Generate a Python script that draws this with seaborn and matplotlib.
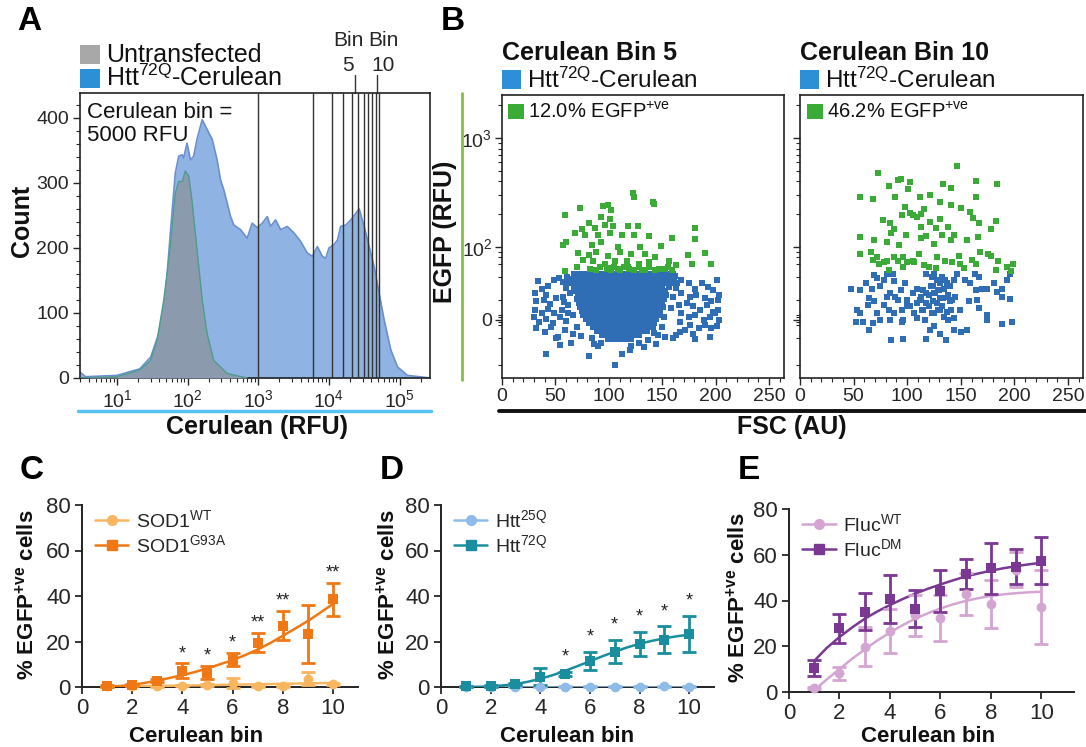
import numpy as np
import matplotlib
matplotlib.use("Agg")
import matplotlib.pyplot as plt
import matplotlib.ticker as mticker
import matplotlib.transforms as mtransforms
from matplotlib.lines import Line2D
from matplotlib.patches import Rectangle
import seaborn as sns

W, H = 1086, 747

# ---------------- panel A: Cerulean histogram ----------------
hist_rfu = [3.0, 3.6, 10, 21, 30, 39, 49, 57, 67, 75, 84, 88, 98, 110, 122, 136, 161, 189,
            223, 262, 292, 326, 363, 406, 452, 561, 698, 822, 968, 1140, 1343, 1496, 1762,
            2075, 2576, 3206, 3981, 4955, 5834, 6871, 8091, 9016, 10046, 11830, 13213,
            14723, 17338, 20417, 24044, 26792, 31550, 37154, 43752, 51523, 60674, 75336,
            93756, 129718, 277971]
htt72q_count = [9, 2, 4, 14, 32, 68, 130, 223, 315, 341, 343, 338, 361, 335, 341, 367, 397, 382,
                367, 335, 305, 289, 269, 248, 235, 228, 215, 238, 231, 238, 248, 233, 243,
                228, 233, 223, 210, 192, 187, 202, 187, 184, 200, 205, 212, 233, 235, 243,
                253, 260, 233, 202, 171, 130, 89, 43, 17, 4, 0]
untrans_rfu = [3.0, 10, 21, 30, 37, 46, 57, 67, 75, 84, 93, 104, 115, 136, 161, 189, 235, 363, 698]
untrans_count = [0, 2, 12, 27, 58, 120, 202, 284, 302, 302, 318, 310, 274, 197, 120, 68, 27, 7, 0]
bin_edges = [1000, 6000, 11000, 16000, 21000, 26000, 31000, 36000, 41000, 46000, 51000]
bin_marks = [23500, 48500]

# ---------------- panel B: EGFP vs FSC scatter ----------------
bin5_core_egfp = [56, 51, 46, 41, 36, 31, 26, 21, 16, 11, 6, 1, -4, -9, -14, -19, -24]
bin5_core_fsc = [
    [67, 71, 76, 80, 85, 89, 93, 98, 102, 106, 111, 115, 119, 124, 128, 132, 137, 141, 146, 150, 155, 160],
    [65, 69, 74, 78, 82, 87, 91, 96, 100, 104, 109, 113, 117, 122, 126, 130, 135, 139, 144, 148, 152, 157, 161],
    [63, 68, 72, 76, 81, 85, 90, 94, 98, 103, 107, 111, 116, 120, 124, 129, 133, 137, 142, 146, 150, 155, 159],
    [67, 71, 75, 80, 84, 88, 93, 97, 101, 106, 110, 114, 119, 123, 127, 132, 136, 141, 145, 150, 156],
    [69, 73, 78, 82, 86, 91, 95, 99, 104, 108, 112, 117, 121, 125, 130, 134, 138, 143, 147, 153],
    [71, 75, 79, 84, 88, 92, 97, 101, 105, 110, 114, 118, 123, 127, 131, 136, 140, 144, 149, 154],
    [70, 74, 78, 83, 87, 91, 96, 100, 104, 109, 113, 117, 122, 126, 130, 135, 139, 143, 148, 152],
    [72, 77, 81, 85, 90, 94, 98, 103, 107, 111, 116, 120, 124, 129, 133, 137, 142, 146, 150],
    [73, 77, 82, 86, 90, 95, 99, 103, 108, 112, 116, 121, 125, 129, 134, 138, 142, 147, 151],
    [75, 79, 83, 88, 92, 96, 101, 105, 109, 114, 118, 122, 127, 131, 135, 140, 144, 148],
    [76, 81, 85, 89, 94, 98, 102, 107, 111, 115, 120, 124, 128, 133, 137, 141, 146],
    [79, 83, 87, 92, 96, 100, 105, 109, 113, 118, 122, 126, 131, 135, 139, 144],
    [81, 85, 90, 94, 98, 103, 107, 111, 116, 120, 124, 129, 133, 137, 142],
    [85, 89, 93, 98, 102, 106, 111, 115, 119, 124, 128, 132, 137, 141],
    [89, 93, 97, 102, 106, 110, 115, 119, 123, 128, 132, 136],
    [94, 98, 102, 107, 111, 115, 120, 124, 128],
    [99, 104, 108, 112, 117, 121],
]
bin5_blue_edge = [
    (34, 48), (31, 33), (37, 39), (41, 31), (43, 42), (49, 50), (53, 52), (32, 23), (39, 25),
    (45, 20), (51, 27), (57, 29), (64, 33), (31, 12), (37, 8), (43, 14), (49, 8), (56, 12),
    (62, 18), (30, 3), (35, -3), (41, 1), (48, -4), (54, 3), (60, -1), (66, 6), (32, -10),
    (40, -15), (46, -9), (52, -21), (59, -13), (66, -17), (41, -43), (51, -22), (54, -31),
    (65, -29), (81, -45), (90, -33), (93, -29), (106, -56), (120, -37), (121, -33), (128, -29),
    (137, -25), (146, -19), (160, -23), (163, -19), (167, -15), (181, -24), (195, -21), (153, -21),
    (162, 54), (168, 50), (175, 46), (181, 39), (187, 46), (193, 41), (198, 37), (201, 50),
    (203, 31), (168, 33), (176, 29), (182, 31), (190, 27), (196, 23), (202, 25), (173, 21),
    (179, 17), (185, 12), (192, 19), (198, 10), (202, 12), (168, 8), (175, 3), (181, 6),
    (189, 0), (195, 4), (199, 8), (203, 0), (167, -2), (176, -6), (184, -10), (190, -6),
    (196, -10), (201, -8), (171, -12), (179, -17), (60, 40), (58, 22), (62, 9), (70, -9),
    (74, -20), (84, -22), (86, -30), (142, -16), (150, -9), (152, 4), (158, 15), (160, 28),
    (163, 40), (166, 18), (164, 46), (57, 47), (61, 53), (144, -30), (133, -34), (112, -42),
]
bin5_green = [
    (123, 310), (124, 290), (141, 260), (142, 250), (73, 230), (95, 235), (99, 240), (102, 220),
    (59, 195), (93, 190), (101, 180), (81, 165), (75, 145), (87, 150), (96, 160), (104, 155),
    (118, 155), (127, 157), (181, 148), (68, 135), (78, 130), (90, 130), (101, 135), (112, 130),
    (124, 130), (138, 125), (159, 122), (181, 118), (57, 105), (60, 110), (84, 105), (93, 110),
    (109, 100), (129, 100), (149, 103), (71, 88), (81, 85), (88, 90), (99, 83), (110, 90),
    (121, 86), (134, 86), (143, 80), (174, 84), (190, 88), (76, 76), (85, 74), (96, 70),
    (106, 74), (117, 74), (128, 70), (138, 72), (156, 74), (163, 68), (178, 70), (196, 70),
    (59, 60), (70, 65), (82, 63), (98, 63), (102, 61), (109, 63), (118, 65), (124, 61),
    (134, 62), (143, 61), (153, 63), (159, 62), (100, 64), (105, 66), (110, 62), (114, 65),
    (119, 63), (128, 66), (131, 62), (138, 65), (147, 63), (155, 66), (92, 66), (88, 61),
]
bin10_blue = [
    (69, 55), (72, 52), (81, 57), (87, 56), (78, 50), (88, 48), (48, 38), (56, 37), (62, 46),
    (67, 38), (75, 42), (84, 33), (89, 29), (94, 37), (98, 46), (100, 25), (105, 33), (109, 39),
    (113, 29), (118, 33), (122, 42), (125, 57), (128, 50), (131, 46), (135, 50), (139, 42),
    (144, 50), (125, 33), (130, 37), (133, 27), (138, 29), (142, 25), (53, 12), (56, 8),
    (64, 27), (63, 18), (69, 24), (72, 8), (78, 19), (81, 29), (83, 12), (88, 8), (91, 25),
    (95, 12), (96, 0), (100, 17), (106, 8), (109, 21), (114, 12), (117, 0), (120, 17),
    (125, 8), (128, 21), (131, 12), (134, 4), (141, 12), (144, 2), (52, -3), (59, -3),
    (64, -12), (68, -4), (75, 0), (84, 0), (95, -2), (85, -25), (96, -24), (118, -24),
    (121, -12), (131, -17), (136, -25), (125, -8), (138, 0), (146, 57), (154, 50), (163, 57),
    (167, 53), (159, 46), (164, 37), (170, 39), (174, 39), (181, 46), (188, 39), (193, 50),
    (196, 57), (184, 35), (188, 28), (196, 26), (158, 23), (165, 25), (167, 15), (174, 6),
    (174, 0), (188, -5), (198, -2), (149, 12), (156, -13), (150, -15), (144, -12), (118, 57),
    (123, 53), (132, 53), (137, 46), (124, 42), (129, 37), (134, 39), (140, 42), (115, 37),
    (120, 31), (126, 33), (131, 27), (138, 31), (145, 29), (112, 25), (118, 21), (124, 23),
    (132, 17), (140, 23), (115, 12), (123, 8), (129, 12), (137, 10), (103, 17), (109, 2),
]
bin10_green = [
    (73, 474), (83, 360), (91, 411), (94, 420), (103, 395), (56, 285), (68, 275), (89, 285),
    (98, 234), (101, 340), (112, 290), (116, 225), (121, 300), (133, 375), (141, 350),
    (131, 260), (141, 245), (77, 175), (84, 165), (88, 145), (95, 195), (103, 204), (105, 195),
    (109, 188), (113, 200), (113, 153), (121, 170), (127, 150), (131, 180), (138, 153),
    (56, 123), (69, 115), (81, 110), (85, 133), (92, 104), (99, 128), (113, 120), (118, 125),
    (125, 106), (132, 128), (141, 116), (56, 86), (66, 89), (72, 81), (78, 73), (81, 74),
    (88, 81), (91, 74), (96, 81), (100, 73), (106, 72), (111, 86), (116, 68), (120, 66),
    (128, 81), (135, 75), (142, 73), (68, 76), (74, 69), (83, 62), (96, 66), (105, 74),
    (127, 64), (146, 553), (164, 405), (184, 376), (164, 285), (150, 230), (159, 208),
    (161, 183), (167, 165), (183, 172), (178, 146), (156, 116), (166, 123), (144, 128),
    (148, 83), (168, 90), (175, 86), (178, 83), (185, 74), (193, 66), (199, 70), (197, 60),
    (183, 61), (160, 76), (164, 70), (149, 70), (153, 64),
]

# ---------------- panels C-E: % EGFP+ve cells per Cerulean bin ----------------
bins = [1, 2, 3, 4, 5, 6, 7, 8, 9, 10]
fit_x = [1, 1.5, 2, 2.5, 3, 3.5, 4, 4.5, 5, 5.5, 6, 6.5, 7, 7.5, 8, 8.5, 9, 9.5, 10]

sod1_wt = [0.3, 0.5, 0.3, 0.6, 0.8, 1.8, 0.3, 0.3, 3.7, 1.3]
sod1_wt_err = [0.2, 0.2, 0.2, 0.3, 0.4, 2.2, 0.2, 0.2, 3.0, 0.5]
sod1_wt_fit = [0.2, 0.3, 0.35, 0.4, 0.5, 0.55, 0.6, 0.7, 0.8, 0.9, 1.0, 1.1, 1.2, 1.3, 1.4, 1.5, 1.6, 1.7, 1.8]
sod1_g93a = [0.5, 1.0, 2.8, 7.2, 6.3, 12.0, 19.5, 27.0, 23.2, 38.5]
sod1_g93a_err = [0.3, 0.4, 0.6, 3.2, 3.0, 2.9, 4.3, 6.3, 12.7, 7.3]
sod1_g93a_fit = [0, 0.4, 1.0, 1.8, 2.8, 4.0, 5.2, 6.6, 8.2, 10.0, 11.8, 14.0, 16.5, 19.3, 22.5, 25.7, 29.0, 32.7, 36.5]
sod1_stars = ["", "", "", "*", "*", "*", "**", "**", "", "**"]

htt25q = [0.2, 0.2, 0.2, 0.2, 0.2, 0.2, 0.2, 0.2, 0.3, 0.2]
htt25q_err = [0.1, 0.1, 0.1, 0.1, 0.1, 0.1, 0.1, 0.1, 0.1, 0.1]
htt25q_fit = [0.2] * 19
htt72q = [0.3, 0.4, 1.2, 4.5, 5.7, 11.3, 15.6, 19.0, 20.8, 23.3]
htt72q_err = [0.2, 0.3, 0.5, 3.8, 0.8, 4.0, 5.1, 5.3, 5.8, 7.8]
htt72q_fit = [0, 0.1, 0.3, 0.7, 1.3, 2.3, 3.6, 5.2, 7.1, 9.2, 11.3, 13.5, 15.5, 17.4, 19.0, 20.3, 21.4, 22.3, 23.0]
htt_stars = ["", "", "", "", "*", "*", "*", "*", "*", "*"]

fluc_wt = [1.6, 8.2, 19.7, 26.6, 33.5, 32.4, 42.9, 38.3, 53.5, 37.0]
fluc_wt_err = [0.5, 2.9, 8.5, 9.6, 8.9, 10.2, 9.1, 10.5, 7.5, 16.2]
fluc_wt_fit = [0.8, 5.5, 10, 14.5, 18.6, 22.5, 26, 29.2, 32, 34.4, 36.5, 38.3, 39.8, 41, 42, 42.7, 43.2, 43.6, 43.8]
fluc_dm = [10.5, 27.8, 35.1, 40.7, 36.4, 44.0, 51.6, 54.0, 54.8, 57.4]
fluc_dm_err = [3.6, 6.5, 8.2, 10.5, 8.2, 9.2, 6.5, 11.0, 7.7, 10.3]
fluc_dm_fit = [13.6, 19.3, 24, 28.2, 32, 35.2, 38, 40.6, 43, 45.1, 47, 48.8, 50.5, 51.8, 53, 54.1, 55, 55.8, 56.5]
fluc_stars = [""] * 10

sns.set_theme(style="ticks")
plt.rcParams["font.family"] = ["Liberation Sans", "DejaVu Sans"]
plt.rcParams["mathtext.fontset"] = "custom"
plt.rcParams["mathtext.rm"] = "Liberation Sans"
plt.rcParams["mathtext.bf"] = "Liberation Sans:bold"
plt.rcParams["axes.linewidth"] = 1.2
plt.rcParams["axes.edgecolor"] = "#222222"

fig = plt.figure(figsize=(W / 100, H / 100), dpi=100)


def px_rect(l, t, r, b):
    return [l / W, 1 - b / H, (r - l) / W, (b - t) / H]


def ftext(x, y, s, **kw):
    kw.setdefault("va", "center")
    kw.setdefault("color", "#111111")
    fig.text(x / W, 1 - y / H, s, **kw)


def frect(l, t, r, b, color):
    fig.add_artist(Rectangle((l / W, 1 - b / H), (r - l) / W, (b - t) / H,
                             transform=fig.transFigure, color=color, lw=0))


def fline(x0, y0, x1, y1, **kw):
    fig.add_artist(Line2D([x0 / W, x1 / W], [1 - y0 / H, 1 - y1 / H],
                          transform=fig.transFigure, **kw))


def sup(s):
    return r"$\mathregular{^{" + s + r"}}$"


# ---- A ----
axA = fig.add_axes(px_rect(80, 93, 430, 378))
axA.set_xscale("log")
axA.fill_between(hist_rfu, htt72q_count, color="#8fb3e3", lw=0, zorder=1)
sns.lineplot(x=hist_rfu, y=htt72q_count, color="#6b8fcf", lw=1.2, ax=axA,
             estimator=None, sort=False, zorder=2)
axA.fill_between(untrans_rfu, untrans_count, color="#8c9aae", lw=0, zorder=3)
sns.lineplot(x=untrans_rfu, y=untrans_count, color="#4f9c8c", lw=1.0, ax=axA,
             estimator=None, sort=False, zorder=4)
for e in bin_edges:
    axA.axvline(e, color="#333333", lw=1.0, zorder=5)
trans = mtransforms.blended_transform_factory(axA.transData, axA.transAxes)
for m in bin_marks:
    axA.plot([m, m], [1.0, 1.063], transform=trans, color="#333333", lw=1.0, clip_on=False)
axA.set_xlim(3, 2.7e5)
axA.set_ylim(0, 438)
axA.set_xticks([10, 100, 1000, 1e4, 1e5],
               [r"$\mathregular{10^{%d}}$" % k for k in range(1, 6)])
axA.xaxis.set_minor_locator(mticker.LogLocator(base=10, subs=np.arange(2, 10)))
axA.xaxis.set_minor_formatter(mticker.NullFormatter())
axA.set_yticks([0, 100, 200, 300, 400])
axA.yaxis.set_minor_locator(mticker.MultipleLocator(20))
axA.tick_params(which="major", direction="out", length=5, width=1, labelsize=14, pad=3)
axA.tick_params(which="minor", direction="out", length=3, width=0.8)
axA.set_xlabel("")
axA.set_ylabel("")
axA.text(0.02, 0.97, "Cerulean bin =\n5000 RFU", transform=axA.transAxes, ha="left",
         va="top", fontsize=16, linespacing=1.15, color="#111111")
axA.text(0.766, 1.185, "Bin", transform=axA.transAxes, ha="center", va="center", fontsize=15)
axA.text(0.766, 1.098, "5", transform=axA.transAxes, ha="center", va="center", fontsize=15)
axA.text(0.866, 1.185, "Bin", transform=axA.transAxes, ha="center", va="center", fontsize=15)
axA.text(0.866, 1.098, "10", transform=axA.transAxes, ha="center", va="center", fontsize=15)

frect(80, 45, 100, 64, "#a8a8a8")
frect(80, 69, 100, 88, "#2d8fd5")
ftext(106, 55, "Untransfected", fontsize=18)
ftext(106, 78, "Htt" + sup("72Q") + "-Cerulean", fontsize=18)
ftext(22, 221, "Count", fontsize=18, fontweight="bold", rotation=90, ha="center")
fline(78, 411, 431, 411, color="#55c3ef", lw=2.5)
ftext(257, 427, "Cerulean (RFU)", fontsize=18, fontweight="bold", ha="center")


# ---- B ----
def scatter_panel(rect, blue_pts, green_pts, show_ylabels):
    ax = fig.add_axes(rect)
    ax.set_yscale("symlog", linthresh=50, linscale=0.332)
    bx, by = zip(*blue_pts)
    gx, gy = zip(*green_pts)
    sns.scatterplot(x=list(bx), y=list(by), marker="s", s=15, color="#2f6db5",
                    linewidth=0, ax=ax, zorder=3)
    sns.scatterplot(x=list(gx), y=list(gy), marker="s", s=15, color="#3aab36",
                    linewidth=0, ax=ax, zorder=3)
    ax.set_xlim(0, 264)
    ax.set_ylim(-73, 2480)
    ax.set_xticks([0, 50, 100, 150, 200, 250])
    ax.xaxis.set_minor_locator(mticker.MultipleLocator(10))
    ax.set_yticks([0, 100, 1000])
    if show_ylabels:
        ax.set_yticklabels(["0", r"$\mathregular{10^{2}}$", r"$\mathregular{10^{3}}$"])
    else:
        ax.set_yticklabels([])
    ax.yaxis.set_minor_locator(mticker.FixedLocator(
        [-55, -22, -6, -3, 3, 6, 25, 53, 70, 80, 90, 200, 300, 400, 500, 600, 700, 800,
         900, 2000]))
    ax.yaxis.set_minor_formatter(mticker.NullFormatter())
    ax.tick_params(which="major", direction="out", length=5, width=1, labelsize=14, pad=2)
    ax.tick_params(which="minor", direction="out", length=3, width=0.8)
    ax.set_xlabel("")
    ax.set_ylabel("")
    return ax


bin5_blue = [(f, e) for e, row in zip(bin5_core_egfp, bin5_core_fsc) for f in row] + bin5_blue_edge
scatter_panel(px_rect(502, 95, 784, 378), bin5_blue, bin5_green, True)
scatter_panel(px_rect(800, 95, 1083, 378), bin10_blue, bin10_green, False)

ftext(502, 53, "Cerulean Bin 5", fontsize=18, fontweight="bold")
ftext(800, 53, "Cerulean Bin 10", fontsize=18, fontweight="bold")
frect(502, 70, 521, 89, "#2d8fd5")
frect(800, 70, 819, 89, "#2d8fd5")
ftext(527, 80, "Htt" + sup("72Q") + "-Cerulean", fontsize=17.5)
ftext(825, 80, "Htt" + sup("72Q") + "-Cerulean", fontsize=17.5)
frect(508, 104, 524, 119, "#3aab36")
frect(807, 104, 823, 119, "#3aab36")
ftext(528, 112, "12.0% EGFP" + sup("+ve"), fontsize=14.5)
ftext(827, 112, "46.2% EGFP" + sup("+ve"), fontsize=14.5)
fline(462, 93, 462, 380, color="#7dc242", lw=2)
ftext(445, 232, "EGFP (RFU)", fontsize=18, fontweight="bold", rotation=90, ha="center")
fline(499, 411, 1086, 411, color="#111111", lw=2.8)
ftext(792, 427, "FSC (AU)", fontsize=18, fontweight="bold", ha="center")


# ---- C, D, E ----
def curve_panel(rect, xmax, wt, wt_err, wt_fit, mut, mut_err, mut_fit, c_wt, c_mut,
                labels, stars, star_off):
    ax = fig.add_axes(rect)
    for mean, err, fit, col, mk, ms in [(wt, wt_err, wt_fit, c_wt, "o", 50),
                                        (mut, mut_err, mut_fit, c_mut, "s", 45)]:
        sns.lineplot(x=fit_x, y=fit, color=col, lw=1.8, ax=ax, estimator=None, zorder=3)
        ax.errorbar(bins, mean, yerr=err, fmt="none", ecolor=col, elinewidth=2,
                    capsize=5, capthick=2, zorder=4, clip_on=False)
        sns.scatterplot(x=bins, y=mean, marker=mk, s=ms, color=col, linewidth=0,
                        ax=ax, zorder=5, clip_on=False)
    for b, m, e, s in zip(bins, mut, mut_err, stars):
        if s:
            ax.text(b, m + e + star_off, s, ha="center", va="center", fontsize=13,
                    color="#222222")
    ax.set_xlim(0, xmax)
    ax.set_ylim(0, 80)
    ax.set_xticks([0, 2, 4, 6, 8, 10])
    ax.set_yticks([0, 20, 40, 60, 80])
    sns.despine(ax=ax)
    ax.spines["left"].set_linewidth(1.4)
    ax.spines["bottom"].set_linewidth(1.4)
    ax.tick_params(direction="out", length=5, width=1.3, labelsize=16, pad=3)
    ax.set_xlabel("")
    ax.set_ylabel("")
    handles = [Line2D([0], [0], color=c_wt, marker="o", lw=1.8, ms=7),
               Line2D([0], [0], color=c_mut, marker="s", lw=1.8, ms=7)]
    ax.legend(handles, labels, loc="upper left", bbox_to_anchor=(0.02, 1.02),
              frameon=False, fontsize=14, handlelength=1.7, handletextpad=0.4,
              labelspacing=0.15, borderaxespad=0)
    return ax


curve_panel(px_rect(82, 505, 358, 687), 11.0, sod1_wt, sod1_wt_err, sod1_wt_fit,
            sod1_g93a, sod1_g93a_err, sod1_g93a_fit, "#f9b660", "#f07814",
            ["SOD1" + sup("WT"), "SOD1" + sup("G93A")], sod1_stars, 4.3)
curve_panel(px_rect(441, 505, 714, 687), 11.0, htt25q, htt25q_err, htt25q_fit,
            htt72q, htt72q_err, htt72q_fit, "#8fbbe8", "#1a8d9f",
            ["Htt" + sup("25Q"), "Htt" + sup("72Q")], htt_stars, 6.5)
curve_panel(px_rect(789, 509, 1074, 692), 11.3, fluc_wt, fluc_wt_err, fluc_wt_fit,
            fluc_dm, fluc_dm_err, fluc_dm_fit, "#d4a5d3", "#7a3893",
            ["Fluc" + sup("WT"), "Fluc" + sup("DM")], fluc_stars, 4)

for x, y in [(27, 595), (388, 595), (738, 598)]:
    ftext(x, y, "% EGFP" + sup("+ve") + " cells", fontsize=16, fontweight="bold",
          rotation=90, ha="center")
for x in [196, 567, 928]:
    ftext(x, 737, "Cerulean bin", fontsize=16, fontweight="bold", ha="center")

for s, x, y in [("A", 29, 22), ("B", 453, 22), ("C", 32, 470), ("D", 392, 470), ("E", 749, 470)]:
    ftext(x, y, s, fontsize=24, fontweight="bold", ha="center", color="#000000")

fig.savefig("out.png", dpi=100)
